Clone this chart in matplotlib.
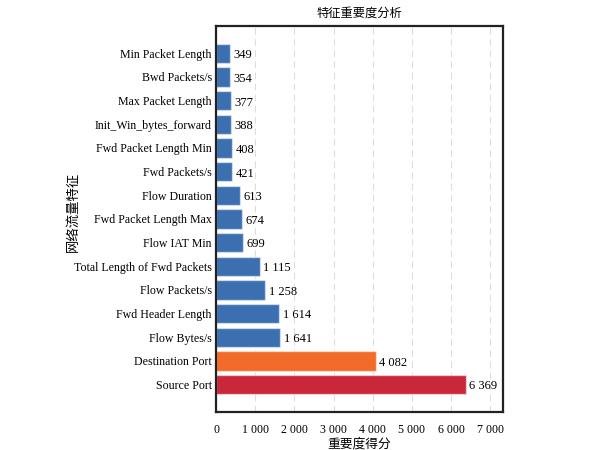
import matplotlib
matplotlib.use("Agg")
import matplotlib.pyplot as plt
import numpy as np

features = ["Source Port", "Destination Port", "Flow Bytes/s", "Fwd Header Length",
            "Flow Packets/s", "Total Length of Fwd Packets", "Flow IAT Min",
            "Fwd Packet Length Max", "Flow Duration", "Fwd Packets/s",
            "Fwd Packet Length Min", "Init_Win_bytes_forward", "Max Packet Length",
            "Bwd Packets/s", "Min Packet Length"]
scores = [6369, 4082, 1641, 1614, 1258, 1115, 699, 674, 613, 421, 408, 388, 377, 354, 349]
xticks = [0, 1000, 2000, 3000, 4000, 5000, 6000, 7000]

serif = ["Liberation Serif", "DejaVu Serif"]
cjk = ["Noto Sans CJK SC", "DejaVu Sans"]

def fmt(v):
    return "{:,}".format(v).replace(",", " ")

colors = ["#c9283a", "#f26b2a"] + ["#3b6fb0"] * (len(scores) - 2)

fig = plt.figure(figsize=(6, 4.5), dpi=100)
ax = fig.add_axes([0.36, 0.085, 0.478, 0.857])
ypos = np.arange(len(features))
ax.barh(ypos, scores, height=0.82, color=colors, edgecolor=(1, 1, 1, 0.5), linewidth=1, zorder=2)
for y, v in zip(ypos, scores):
    ax.text(v + 90, y - 0.08, fmt(v), va="center", ha="left", fontsize=9, family=serif)

ax.set_xlim(0, 7320)
ax.set_xticks(xticks)
ax.set_xticklabels([fmt(t) for t in xticks], family=serif, fontsize=8.6)
ax.set_yticks(ypos)
ax.set_yticklabels(features, family=serif, fontsize=8.6)
ax.tick_params(length=0)
ax.tick_params(axis="x", pad=9)
ax.tick_params(axis="y", pad=3)
ax.grid(axis="x", linestyle=(0, (6, 4)), color="#dddddd", linewidth=0.8, zorder=0)
ax.set_axisbelow(True)
for s in ax.spines.values():
    s.set_linewidth(1.6)
    s.set_color("#222222")

ax.set_title("特征重要度分析", family=cjk, fontsize=8.8, pad=7)
ax.set_xlabel("重要度得分", family=cjk, fontsize=9.2, labelpad=1)
ax.set_ylabel("网络流量特征", family=cjk, fontsize=9.6)
ax.yaxis.set_label_coords(-0.477, 0.518)

fig.savefig("out.png", dpi=100)
